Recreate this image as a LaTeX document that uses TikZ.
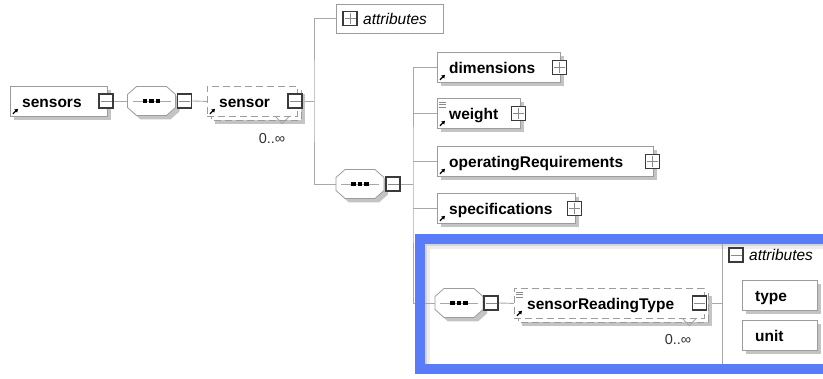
\documentclass[tikz,border=0pt]{standalone}
\usepackage{fontspec}
\setmainfont{Liberation Sans}
\usetikzlibrary{shadows,arrows.meta}

\definecolor{wiregray}{HTML}{A8A8A8}
\definecolor{framegray}{HTML}{9C9C9C}
\definecolor{shadegray}{HTML}{C4C4C4}
\definecolor{signgray}{HTML}{8A8A8A}
\definecolor{squaredark}{HTML}{3A3A3A}
\definecolor{focusblue}{HTML}{5A7CF8}

\pgfdeclarelayer{back}
\pgfdeclarelayer{wires}
\pgfsetlayers{back,wires,main}

\tikzset{
  wire/.style={draw=wiregray, line width=0.9pt},
  elem/.style={draw=framegray, fill=white, line width=0.8pt, inner sep=0pt, anchor=north west,
    general shadow={fill=shadegray, shadow xshift=4pt, shadow yshift=-4pt}},
  plainbox/.style={draw=framegray, fill=white, line width=0.8pt, inner sep=0pt, anchor=north west},
  repfront/.style={draw=framegray, fill=white, line width=0.8pt, dash pattern=on 7pt off 4pt,
    inner sep=0pt, anchor=north west},
  repback/.style={draw=framegray, fill=white, line width=0.8pt, dash pattern=on 7pt off 4pt},
  shadowfill/.style={fill=shadegray},
  octfill/.style={fill=white, draw=framegray, line width=0.8pt},
  seqbox/.style={minimum width=48pt, minimum height=29pt, inner sep=0pt},
  expsq/.style={draw=squaredark, fill=white, line width=1.1pt, minimum size=14pt, inner sep=0pt},
  sign/.style={draw=signgray, line width=0.8pt},
  lbl/.style={font=\fontsize{15.5}{18}\selectfont\bfseries, inner sep=0pt, anchor=base west},
  attrlbl/.style={font=\fontsize{15.5}{18}\selectfont\itshape, inner sep=0pt, anchor=base west},
  mult/.style={font=\fontsize{14.5}{17}\selectfont, text=black!80, inner sep=0pt},
  refarrow/.style={draw=black, line width=1.3pt, -{Triangle[length=3.2pt,width=4pt]}},
  docline/.style={draw=signgray, line width=0.6pt},
}

% expand/collapse square: name, position, 1 = plus / 0 = minus
\newcommand\expander[3]{%
  \node[expsq] (#1) at (#2) {};
  \draw[sign] ([xshift=-5.5pt]#1.center) -- ([xshift=5.5pt]#1.center);
  \ifnum#3=1 \draw[sign] ([yshift=-5.5pt]#1.center) -- ([yshift=5.5pt]#1.center);\fi}

% small reference arrow in the lower left corner of an element
\newcommand\refmark[1]{\draw[refarrow] ([shift={(3,-3)}]#1.south west) -- ++(5,-5);}

% documentation lines in the upper left corner
\newcommand\docmark[1]{\foreach \k in {0,2.5,5}{\draw[docline] ([shift={(2,4+\k)}]#1.north west) -- ++(7,0);}}

% sequence compositor: name, centre x, centre y
\newcommand\seqnode[3]{%
  \node[seqbox] (#1) at (#2,#3) {};
  \foreach \dx/\dy/\st in {4/4/shadowfill,0/0/octfill}{%
    \path[\st] ({#2+\dx-15},{#3+\dy-14.5}) -- ({#2+\dx+15},{#3+\dy-14.5})
      -- ({#2+\dx+24},{#3+\dy-6.5}) -- ({#2+\dx+24},{#3+\dy+6.5})
      -- ({#2+\dx+15},{#3+\dy+14.5}) -- ({#2+\dx-15},{#3+\dy+14.5})
      -- ({#2+\dx-24},{#3+\dy+6.5}) -- ({#2+\dx-24},{#3+\dy-6.5}) -- cycle;}
  \draw[wire] ({#2-19},#3) -- ({#2+19},#3);
  \foreach \d in {-6.5,0,6.5}{\fill[black] ({#2+\d-2.2},{#3-2.2}) rectangle ++(4.4,4.4);}}

% repeated optional element: name, x, y, width, height
\newcommand\repnode[5]{%
  \fill[shadegray] ({#2+8},{#3+8}) rectangle ++(#4,#5);
  \path[repback] ({#2+4},{#3+4}) rectangle ++(#4,#5);
  \node[repfront, minimum width=#4pt, minimum height=#5pt] (#1) at (#2,#3) {};
  \draw[wire] ([shift={(-22,0)}]#1.south east) -- ++(6.5,7) -- ++(6.5,-7);}

\begin{document}
\begin{tikzpicture}[x=1pt,y=-1pt]
\useasboundingbox (0,0) rectangle (823,379);
\clip (0,0) rectangle (823,379);

% highlighted panel: inset shade and blue frame
\begin{pgfonlayer}{back}
  \fill[black!16] (425,244) rectangle (823,364);
  \fill[black!7] (427,246) rectangle (823,364);
  \fill[white] (430,249) rectangle (823,364);
\end{pgfonlayer}
\draw[focusblue, line width=10pt] (420,239) rectangle (840,369);

% root element
\node[elem, minimum width=97pt, minimum height=30pt] (sensors) at (10,86) {};
\node[lbl] (sensorsL) at ([shift={(12,6)}]sensors.west) {sensors};
\refmark{sensors}
\expander{sensorsX}{106,101}{0}

\seqnode{seqA}{151.5}{101}
\expander{seqAX}{184.5,101}{0}

\repnode{sensor}{207}{86}{90}{30}
\node[lbl] (sensorL) at ([shift={(12,6)}]sensor.west) {sensor};
\refmark{sensor}
\expander{sensorX}{295,101}{0}
\node[mult] (sensorM) at (272,139) {0..∞};

% attribute group of sensor
\node[plainbox, minimum width=107pt, minimum height=29pt] (attrA) at (336,4) {};
\expander{attrAX}{350,18.5}{1}
\node[attrlbl] (attrAL) at ([shift={(27,6)}]attrA.west) {attributes};

\seqnode{seqB}{360}{184}
\expander{seqBX}{393,184}{0}

% children of the sensor sequence
\node[elem, minimum width=123pt, minimum height=30pt] (dims) at (437,52) {};
\node[lbl] (dimsL) at ([shift={(12,6)}]dims.west) {dimensions};
\refmark{dims}
\expander{dimsX}{[xshift=-1pt]dims.east}{1}

\node[elem, minimum width=83pt, minimum height=30pt] (weight) at (437,98) {};
\docmark{weight}
\node[lbl] (weightL) at ([shift={(12,6)}]weight.west) {weight};
\refmark{weight}
\expander{weightX}{[xshift=-2pt]weight.east}{1}

\node[elem, minimum width=216pt, minimum height=30pt] (opreq) at (437,146) {};
\node[lbl] (opreqL) at ([shift={(12,6)}]opreq.west) {operatingRequirements};
\refmark{opreq}
\expander{opreqX}{[xshift=-1pt]opreq.east}{1}

\node[elem, minimum width=138pt, minimum height=30pt] (spec) at (437,193) {};
\node[lbl] (specL) at ([shift={(12,6)}]spec.west) {specifications};
\refmark{spec}
\expander{specX}{[xshift=-1.5pt]spec.east}{1}

% highlighted branch
\seqnode{seqC}{459}{303}
\expander{seqCX}{491,303}{0}

\repnode{srt}{514}{288}{190}{30}
\docmark{srt}
\node[lbl] (srtL) at ([shift={(13,6)}]srt.west) {sensorReadingType};
\refmark{srt}
\expander{srtX}{699.5,303}{0}
\node[mult] (srtM) at (678,340) {0..∞};

\expander{attrBX}{736,255}{0}
\node[attrlbl] (attrBL) at (749,260.5) {attributes};

\node[elem, minimum width=75pt, minimum height=30pt] (type) at (742,280) {};
\node[lbl] (typeL) at ([shift={(13,6)}]type.west) {type};
\node[elem, minimum width=75pt, minimum height=30pt] (unit) at (742,320) {};
\node[lbl] (unitL) at ([shift={(13,6)}]unit.west) {unit};

% connectors
\begin{pgfonlayer}{wires}
  \coordinate (trunkA) at (314,101);
  \coordinate (trunkB) at (413,184);
  \coordinate (divider) at (722,303);
  \coordinate (divTop) at (722,244);
  \coordinate (divBot) at (722,364);
  \draw[wire] (sensorsX.east) -- (seqA.west);
  \draw[wire] (seqAX.east) -- (sensor.west);
  \draw[wire] (sensorX.east) -- (trunkA);
  \draw[wire] (attrA.west) -| (trunkA) |- (seqB.west);
  \draw[wire] (seqBX.east) -- (trunkB);
  \draw[wire] (dims.west) -| (trunkB) |- (seqC.west);
  \foreach \n in {weight,opreq,spec}{\draw[wire] (\n.west) -- (\n.west -| trunkB);}
  \draw[wire] (seqCX.east) -- (srt.west);
  \draw[wire] (srtX.east) -- (divider);
  \draw[wire] (divTop) -- (divBot);
\end{pgfonlayer}
\end{tikzpicture}
\end{document}
